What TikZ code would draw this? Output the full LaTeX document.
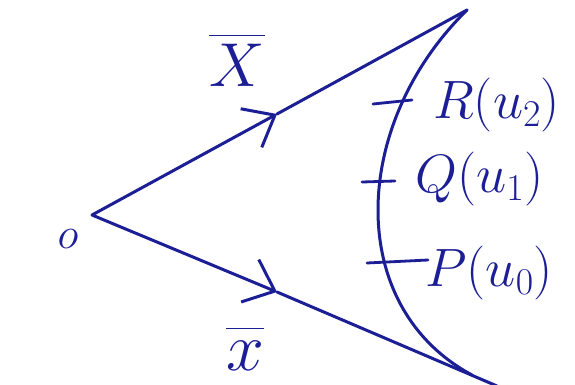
\RequirePackage{fix-cm}
\documentclass[tikz,border=0pt]{standalone}
\usetikzlibrary{arrows.meta}
\definecolor{ink}{RGB}{28,30,150}
\begin{document}
\begin{tikzpicture}[x=1pt,y=-1pt,
  stroke/.style={draw=ink,line width=3pt,line cap=round,line join=round},
  vecA/.style={stroke,-{Straight Barb[length=27pt,width=44pt,line width=3pt]}},
  vecB/.style={stroke,-{Straight Barb[length=27pt,width=46pt,line width=3pt]}},
  lbl/.style={text=ink,inner sep=0pt,font=\fontsize{54}{56}\selectfont},
  tick/.style={draw=ink,line width=2.8pt,line cap=round}]
\useasboundingbox (0,0) rectangle (575,385);
\fill[white] (0,0) rectangle (575,385);
% points
\coordinate (O) at (92,215);
\coordinate (A) at (467,10);
\coordinate (B) at (497,386);
\coordinate (C) at (472,375);
\coordinate (ta) at (277,114);
\coordinate (tb) at (277,292);
% rays with mid arrows
\draw[vecA] (O) -- (ta);
\draw[stroke] (ta) -- (A);
\draw[vecB] (O) -- (tb);
\draw[stroke] (tb) -- (B);
% curve
\draw[stroke] (A) .. controls (350,125) and (345,307) .. (C);
% ticks
\coordinate (r1) at (373,104); \coordinate (r2) at (412,100);
\coordinate (q1) at (362,182); \coordinate (q2) at (395,181);
\coordinate (p1) at (367,263); \coordinate (p2) at (428,260);
\draw[tick] (r1) -- (r2);
\draw[tick] (q1) -- (q2);
\draw[tick] (p1) -- (p2);
% labels
\node[lbl,anchor=base west] (R) at (433,118) {$R(u_2)$};
\node[lbl,anchor=base west] (Q) at (415,192) {$Q(u_1)$};
\node[lbl,anchor=base west] (P) at (425,286) {$P(u_0)$};
\node[lbl,font=\fontsize{62}{64}\selectfont,anchor=base] (X) at (237,87) {$\overline{X\rule{0pt}{0.82em}}$};
\node[lbl,font=\fontsize{68}{70}\selectfont,anchor=base] (x) at (245,370) {$\overline{x\rule{0pt}{0.6em}}$};
\node[lbl,font=\fontsize{44}{46}\selectfont] (o) at (68,239) {$o$};
\end{tikzpicture}
\end{document}
